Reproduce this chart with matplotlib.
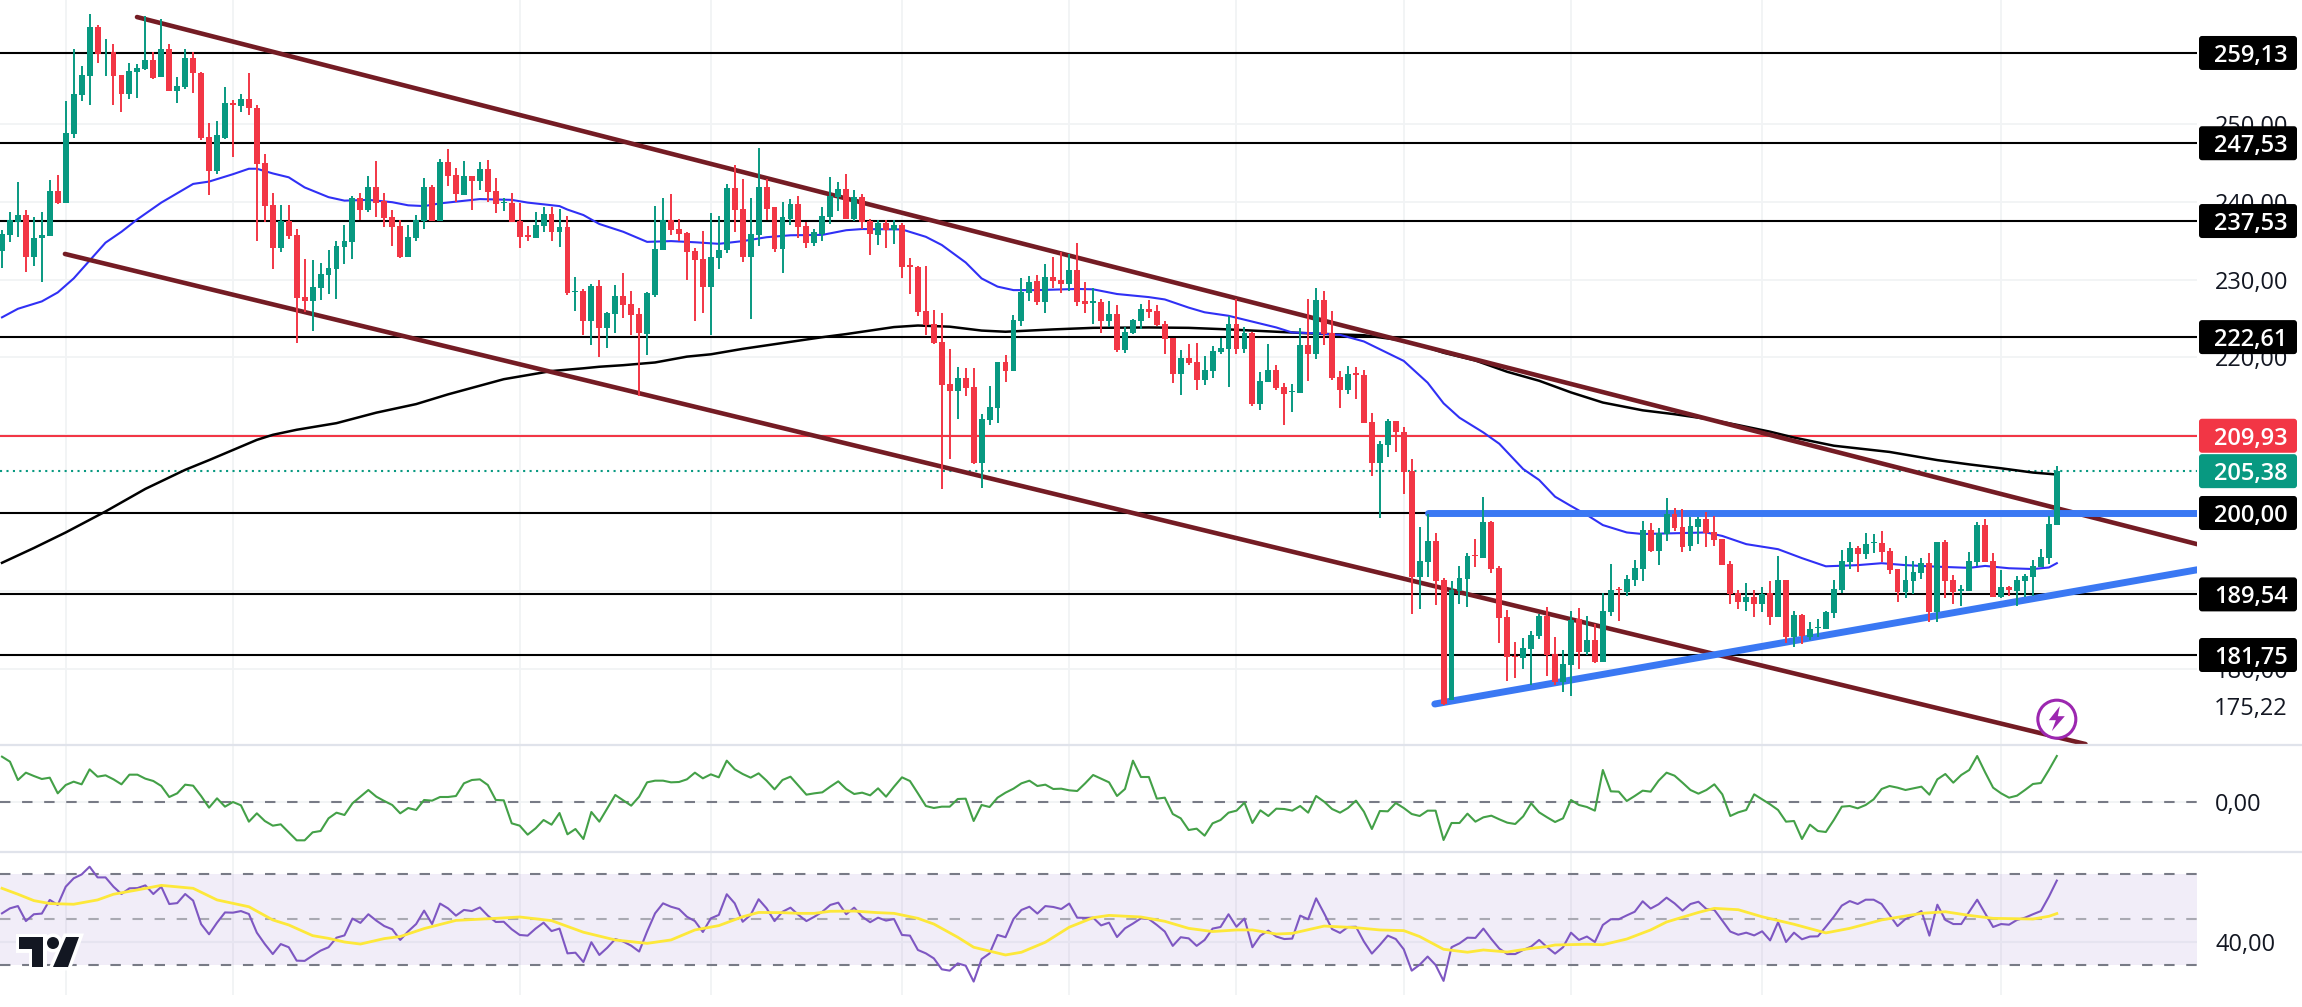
import matplotlib
matplotlib.use('Agg')
import matplotlib.pyplot as plt
from matplotlib.patches import FancyBboxPatch, Circle, Polygon
from matplotlib.transforms import IdentityTransform
import numpy as np

plt.rcParams['font.family'] = ['Open Sans', 'DejaVu Sans']

# OHLC
opens = [233.7,235.7,237.45,238.3,232.95,235.4,235.65,241.4,239.9,248.7,
    253.7,256.2,262.5,259.2,259.25,256.3,253.9,256.7,257.1,258.2,
    256.0,259.6,254.3,254.7,258.5,256.6,248.3,243.9,248.25,252.7,
    252.3,253.2,252.05,245.0,239.6,234.1,237.5,235.7,227.8,227.25,
    228.9,230.6,231.4,234.2,234.85,240.5,238.95,241.9,240.1,238.05,
    236.9,232.9,235.35,237.5,241.9,237.5,245.1,243.45,240.9,243.3,
    242.7,244.2,241.4,239.85,239.85,237.5,235.7,235.35,236.9,238.4,
    236.1,236.8,228.45,228.5,224.7,229.2,223.8,225.6,227.9,226.85,
    225.6,223.0,228.0,233.85,237.65,236.5,236.0,233.7,232.65,229.1,
    232.8,233.8,241.8,239.05,232.9,235.7,241.9,239.3,233.9,237.8,
    239.7,236.9,234.7,235.85,238.05,240.6,241.65,237.85,240.6,237.5,
    235.7,237.25,236.4,237.0,231.85,231.6,225.95,224.3,222.0,216.6,
    215.7,217.35,216.2,206.45,211.95,213.5,219.4,218.25,224.7,228.3,
    229.8,227.1,230.35,229.95,229.45,231.25,227.25,227.05,227.1,224.7,
    225.6,220.95,223.15,224.7,226.2,226.0,224.3,222.55,217.9,219.95,
    219.4,217.1,218.25,220.7,221.1,224.3,221.1,223.15,214.0,216.85,
    218.4,216.2,215.5,215.45,221.6,220.45,227.4,223.15,217.5,215.8,
    217.95,217.75,211.7,206.45,208.75,211.85,210.4,205.4,191.8,193.7,
    196.4,191.4,176.0,190.0,191.5,194.6,194.2,198.85,192.95,186.65,
    181.6,181.4,182.55,184.2,186.8,181.9,178.3,180.45,186.4,182.15,
    183.7,180.85,187.3,190.25,189.85,191.4,192.8,197.8,195.1,197.3,
    199.9,198.2,195.75,198.2,199.25,197.55,196.65,193.45,189.7,188.55,
    189.2,188.3,189.7,186.65,191.4,184.05,186.9,184.05,185.2,185.1,
    187.15,190.1,193.7,195.5,194.75,196.1,196.15,195.1,192.8,189.85,
    191.25,192.3,193.6,187.3,196.3,191.4,190.0,190.0,193.7,198.45,
    193.85,189.2,190.5,190.0,191.25,191.8,193.05,194.2,198.45]
highs = [236.4,238.7,242.5,239.0,238.0,238.7,242.8,243.4,253.0,259.7,
    257.5,264.2,262.7,260.9,260.3,256.3,257.8,257.7,263.9,259.3,
    263.5,260.3,256.0,259.7,259.2,256.7,250.1,250.4,254.7,253.05,
    253.9,256.6,252.4,246.1,241.1,239.6,239.6,236.5,232.65,232.5,
    232.1,233.8,234.9,237.0,240.8,241.1,243.3,245.2,241.1,239.0,
    237.6,237.0,238.3,243.1,242.2,245.5,246.75,244.4,245.25,243.3,
    245.1,245.4,243.1,240.5,241.1,239.85,236.9,238.7,239.3,239.3,
    239.1,238.2,230.3,228.75,229.5,229.9,225.9,229.25,230.9,228.5,
    226.3,228.4,239.5,240.55,241.0,237.75,236.1,234.0,236.25,238.5,
    238.2,242.3,244.7,242.9,240.55,246.9,242.9,239.3,240.0,240.35,
    240.75,237.4,236.5,239.3,243.2,242.55,243.55,241.5,241.0,237.75,
    237.65,237.65,237.65,237.25,232.75,231.7,231.75,226.1,225.7,221.1,
    218.75,218.6,218.6,212.7,216.3,219.4,220.3,225.45,230.2,230.45,
    230.6,232.0,232.9,233.5,233.3,234.7,229.7,228.9,227.5,227.25,
    226.75,223.9,224.95,226.85,227.4,226.7,224.65,222.55,220.9,221.7,
    221.8,220.2,221.45,222.5,225.35,227.5,223.85,223.25,218.1,221.7,
    219.0,216.7,216.6,223.8,227.5,228.9,228.55,226.0,218.25,218.9,
    218.75,218.4,212.85,209.25,212.1,211.85,211.05,206.95,198.2,199.9,
    197.45,191.65,191.25,193.2,194.85,196.65,202.05,199.0,193.2,187.55,
    183.45,183.95,184.85,187.05,187.95,184.05,182.4,187.4,187.8,186.8,
    185.75,189.75,193.45,190.5,192.05,193.95,199.0,198.7,198.1,201.95,
    200.65,200.5,199.5,199.5,200.15,199.6,196.65,193.85,190.1,191.0,
    190.1,190.5,191.25,194.5,191.4,187.4,187.0,186.0,186.4,187.4,
    191.4,195.25,196.3,195.75,197.45,197.3,197.7,195.5,192.8,194.5,
    193.85,194.2,194.85,196.3,196.55,192.05,190.75,195.0,198.85,199.25,
    194.85,192.7,190.6,191.9,192.15,193.95,195.4,199.6,206.05]
lows = [231.5,234.8,235.5,231.0,231.8,229.65,235.6,239.7,239.9,248.25,
    252.9,252.4,257.9,256.2,252.5,251.5,253.25,253.4,256.9,255.8,
    256.0,254.2,252.75,254.45,254.0,248.0,240.9,243.6,248.1,245.7,
    251.6,251.2,235.0,237.4,231.3,233.6,235.2,221.9,225.9,223.4,
    227.4,228.2,227.55,232.05,232.6,237.7,238.7,238.05,236.7,234.3,
    232.8,232.9,234.9,236.5,237.5,237.5,242.0,240.0,240.9,239.0,
    241.5,240.0,238.6,238.8,237.4,234.05,235.0,235.35,236.1,235.0,
    234.2,228.0,226.0,222.9,221.6,220.1,221.2,223.2,225.05,222.9,
    215.1,220.35,227.8,233.85,235.7,234.95,229.95,224.7,225.75,222.9,
    231.4,233.45,236.1,232.3,225.0,234.3,237.65,233.5,230.9,237.0,
    235.4,234.05,234.3,235.0,237.2,238.8,237.75,237.5,236.45,233.15,
    234.45,234.05,234.6,230.2,228.15,225.3,222.9,221.7,203.05,207.0,
    212.1,215.05,206.3,203.25,211.3,211.55,216.85,218.25,224.05,227.25,
    226.75,225.7,228.9,228.3,228.5,226.6,225.7,224.3,223.1,223.95,
    220.75,220.55,223.0,223.65,225.05,224.05,220.5,216.75,215.2,219.0,
    215.75,216.5,217.35,220.45,216.25,220.45,220.55,213.7,213.3,216.85,
    215.8,211.3,213.0,215.45,217.0,219.8,221.6,217.1,213.5,215.3,
    214.65,211.55,204.75,199.35,207.2,207.85,202.45,187.05,187.7,191.8,
    188.2,175.35,176.0,188.3,187.95,193.05,194.2,192.3,183.3,178.4,
    178.8,179.95,177.9,183.8,179.05,177.9,177.0,176.5,179.95,181.75,
    180.75,180.85,186.8,186.15,189.35,190.65,191.25,195.0,193.35,196.4,
    197.7,195.0,195.1,196.0,195.65,195.75,193.3,188.3,187.65,187.4,
    186.65,187.3,185.6,186.65,183.3,182.8,183.15,183.7,184.05,185.1,
    186.5,189.7,192.8,192.4,194.1,194.85,193.7,192.15,188.55,189.1,
    189.6,191.5,186.0,186.0,189.1,188.3,188.05,190.0,193.2,193.7,
    189.2,189.1,189.35,188.05,189.2,189.35,193.05,193.45,198.45]
closes = [235.9,237.6,238.3,232.95,235.4,235.7,241.4,239.8,248.85,253.9,
    256.3,262.5,259.0,259.3,256.2,253.9,256.8,257.2,258.2,255.9,
    259.6,254.2,254.9,258.5,256.5,248.2,244.0,248.6,252.7,252.4,
    253.2,252.0,244.9,239.5,234.1,237.5,235.6,227.7,227.25,229.05,
    230.7,231.5,234.3,234.9,240.5,238.95,241.9,239.9,237.9,236.8,
    232.9,235.5,237.6,241.9,237.5,245.1,243.3,241.0,243.3,242.7,
    244.2,241.3,239.7,240.0,237.4,235.5,235.5,237.0,238.4,236.1,
    236.8,228.3,228.6,224.7,229.2,223.8,225.75,227.9,226.8,225.45,
    223.2,228.25,233.9,237.65,236.4,235.9,233.5,232.5,229.1,232.9,
    233.8,241.8,238.95,232.9,235.85,241.9,239.05,233.9,238.05,239.7,
    236.75,234.7,236.1,238.2,240.75,241.65,237.85,240.6,237.4,235.85,
    237.25,236.4,237.0,231.6,231.65,225.85,224.15,221.85,216.45,215.7,
    217.35,216.05,206.4,212.1,213.6,219.4,218.25,224.8,228.4,229.7,
    227.1,230.35,229.8,229.45,231.25,227.1,226.85,227.25,224.7,225.6,
    220.95,223.25,224.8,226.2,225.85,224.15,222.4,217.9,219.95,219.3,
    217.1,218.4,220.8,221.2,224.3,221.1,223.15,214.0,217.0,218.4,
    216.05,215.3,215.7,221.6,220.45,227.4,223.0,217.35,215.8,217.85,
    217.8,211.55,206.45,208.9,211.85,210.4,205.3,191.8,193.85,196.4,
    191.25,175.45,190.1,191.65,194.5,194.45,198.85,192.8,186.5,181.5,
    181.45,182.65,184.35,186.8,181.75,178.3,180.6,186.25,182.15,183.7,
    180.85,187.4,190.1,190.05,191.5,192.95,197.8,195.1,197.45,199.9,
    198.1,195.65,198.35,199.25,197.45,196.55,193.3,189.6,188.55,189.2,
    188.3,189.6,186.65,191.4,184.05,186.9,184.2,185.1,185.35,187.3,
    190.25,193.85,195.5,194.75,196.0,196.3,195.0,192.7,189.85,191.4,
    192.4,193.6,187.3,196.3,191.25,189.85,190.2,193.85,198.45,193.7,
    189.2,190.5,190.1,191.4,191.9,193.2,194.35,198.6,205.38]

# moving averages, sampled at bar numbers
ma50_idx = [0,2,5,7,9,11,13,15,17,20,24,26,29,31,32,34,36,38,41,43,46,49,51,53,55,60,64,66,70,
    71,73,75,78,81,84,87,90,93,96,99,103,106,108,113,116,118,121,123,125,127,130,135,137,140,144,
    146,149,151,154,157,160,162,165,168,171,174,176,179,181,183,186,188,191,193,195,197,199,201,204,206,210,214,
    216,219,223,226,229,233,236,239,243,247,249,252,255,257,258]
ma50 = [225.15,226.25,227.2,228.35,230.15,232.45,234.75,236.15,237.75,239.9,242.3,242.6,243.55,244.25,244.25,243.65,243.15,241.85,240.6,240.15,240.25,239.95,239.55,239.45,239.8,240.35,240.25,239.9,239.45,
    239.0,238.3,237.15,236.15,234.85,234.95,234.8,234.6,234.95,235.45,235.7,235.75,236.35,236.5,236.45,235.5,234.45,232.2,230.15,229.1,228.65,228.65,228.8,228.75,228.15,227.75,
    227.45,226.4,225.8,225.35,224.6,223.85,223.2,223.1,222.9,222.05,220.55,219.55,216.75,214.1,212.25,210.35,208.9,205.65,204.25,202.1,200.9,199.75,198.45,197.5,197.3,197.4,197.5,
    197.05,196.0,195.35,194.2,193.15,193.3,193.55,193.3,193.1,192.95,193.2,192.9,192.8,193.0,193.55]
ma200_idx = [0,4,8,13,18,23,26,29,32,34,37,42,47,52,56,63,69,73,75,78,82,86,89,93,97,103,106,112,115,119,123,126,132,137,144,
    149,154,160,165,171,175,178,181,185,189,193,197,201,206,210,214,218,222,225,230,237,243,247,251,255,258]
ma200 = [193.6,195.5,197.5,200.2,203.1,205.55,206.8,208.1,209.4,210.05,210.7,211.55,212.9,214.0,215.25,217.2,218.25,218.6,218.8,219.0,219.35,220.1,220.4,221.1,221.7,222.6,223.0,223.9,224.1,223.95,223.45,223.3,223.6,223.8,223.85,
    223.8,223.6,223.3,223.05,222.85,222.3,221.6,220.6,219.6,218.15,217.0,215.5,214.2,213.2,212.7,212.1,211.3,210.45,209.7,208.65,207.85,206.8,206.25,205.75,205.2,204.95]

# second pane (momentum style line)
mom = [13.6,12.1,6.6,8.8,7.8,6.9,7.3,2.6,5.1,6.1,5.3,9.8,7.6,8.0,6.8,5.3,8.2,8.2,7.0,6.3,
    4.8,1.5,2.6,5.2,4.9,1.8,-1.7,1.1,-1.4,0.0,-1.0,-5.9,-3.4,-5.7,-7.1,-6.7,-9.1,-11.5,-11.5,-9.1,
    -8.7,-4.9,-3.2,-3.9,-0.4,1.6,3.6,1.6,0.3,-0.9,-3.4,-1.8,-2.4,0.6,0.4,1.5,1.5,1.8,5.6,6.6,
    6.8,5.1,0.6,0.5,-6.4,-7.1,-9.8,-7.9,-5.4,-6.8,-3.3,-9.7,-8.1,-11.1,-3.0,-5.9,-1.9,2.1,0.5,-1.1,
    1.6,5.9,6.4,6.4,5.9,6.0,6.8,8.8,7.1,8.3,7.4,12.4,9.8,8.4,7.3,8.6,6.4,3.8,
    6.6,7.6,4.9,2.2,2.6,2.9,4.6,6.2,3.9,2.4,2.8,2.0,4.1,1.6,4.6,7.4,6.3,2.6,-1.2,-1.8,-1.4,-1.4,
    0.9,1.0,-5.7,-0.9,-1.5,1.3,2.8,4.0,5.6,6.4,4.8,5.2,3.9,4.0,3.5,3.3,5.6,8.1,7.0,5.9,1.8,3.9,
    12.4,7.5,7.5,1.0,1.3,-3.6,-4.9,-8.4,-8.0,-10.1,-6.4,-5.4,-3.2,-2.6,-0.2,-6.3,-2.5,-4.2,-2.0,-2.1,
    -2.6,-1.2,-3.2,1.8,0.1,-2.1,-3.2,-1.8,0.4,-2.9,-8.1,-2.7,-2.8,-0.3,-1.8,-3.6,-4.2,-2.6,-2.6,-11.4,
    -6.3,-6.3,-3.5,-5.9,-4.6,-4.1,-5.2,-6.2,-6.6,-4.3,-0.4,-3.1,-4.6,
    -6.0,-4.9,0.6,-0.9,-1.5,-2.6,9.6,3.2,3.1,0.3,1.8,3.4,3.1,6.4,8.8,7.9,5.8,3.6,2.5,3.6,
    5.3,2.3,-4.2,-3.1,-2.4,2.3,0.8,-0.7,-2.4,-5.9,-5.7,-11.1,-6.8,-8.7,-9.0,-5.4,-1.4,-1.2,-1.9,-0.9,
    0.8,3.9,4.8,4.3,3.6,4.1,4.6,2.2,6.8,8.4,5.8,8.1,9.6,13.8,8.9,4.3,2.6,1.3,1.9,3.6,5.4,5.7,9.6,13.8]

rsi = [52.7,54.9,55.9,49.3,52.3,52.6,58.6,56.4,64.4,68.1,69.8,73.2,68.5,68.5,64.4,61.2,63.7,63.8,65.0,61.2,
    64.4,56.8,57.2,61.2,58.3,48.0,43.5,48.6,53.1,53.0,53.7,52.4,44.2,39.2,34.8,39.2,37.8,31.9,31.8,34.1,
    36.3,37.8,42.0,43.0,50.4,48.5,52.3,49.5,47.1,45.7,41.0,44.8,48.0,53.9,48.0,57.0,54.9,51.7,54.2,53.7,
    55.3,51.7,48.9,49.0,45.7,43.2,42.9,46.0,48.6,44.9,46.0,35.1,35.4,31.3,40.0,34.4,37.6,41.4,40.3,38.5,
    35.9,44.7,52.7,57.1,55.6,54.6,51.2,49.3,44.5,50.5,52.0,61.1,57.1,49.0,52.0,58.9,54.9,49.3,
    53.4,55.2,52.0,49.3,51.2,53.4,56.4,57.4,52.3,55.2,51.2,48.8,50.8,49.5,50.2,43.2,42.9,36.6,35.1,32.9,
    28.1,27.5,30.7,29.7,22.7,32.6,35.1,43.2,42.2,50.2,54.2,55.6,52.6,55.9,55.5,54.6,57.0,50.8,50.7,50.8,
    47.4,48.6,42.3,46.1,48.2,50.5,50.2,47.6,44.7,38.4,42.2,41.7,38.4,41.0,46.0,46.7,52.3,46.8,50.4,37.8,
    42.9,45.1,42.5,41.4,41.6,51.7,50.1,59.3,52.7,45.8,44.1,46.7,46.8,40.3,35.0,38.8,42.9,41.4,36.9,27.5,
    30.1,33.7,30.0,23.0,37.8,39.5,42.0,41.9,46.0,41.4,37.2,34.8,34.8,36.6,38.1,41.0,37.8,
    35.0,37.8,44.2,41.0,42.5,40.1,47.6,50.1,50.1,51.8,53.4,58.0,54.8,56.7,59.6,57.1,53.9,56.8,57.8,54.6,
    54.2,49.5,44.7,43.3,44.2,43.0,44.8,40.8,48.8,40.1,44.2,41.3,42.5,42.6,46.8,51.2,56.1,58.1,56.8,58.7,
    58.7,56.8,52.0,47.1,50.2,51.7,53.7,42.9,56.5,49.8,48.0,48.0,53.4,58.7,52.7,46.7,48.0,47.7,49.8,50.8,
    52.3,53.7,60.0,67.1]
rsi_ma_idx = [0,2,4,6,9,12,14,17,20,24,27,31,34,36,39,41,43,45,48,50,53,57,62,65,69,73,77,81,84,87,90,93,95,98,
    100,102,104,107,110,112,115,117,120,122,126,128,131,134,137,139,143,146,149,152,155,157,160,162,166,170,173,176,178,181,184,186,189,192,194,
    195,199,201,204,207,209,213,215,218,221,225,229,232,236,241,244,247,250,255,257,258]
rsi_ma = [63.7,61.1,58.3,57.0,56.7,58.6,61.1,63.0,65.0,63.7,58.6,55.6,49.8,47.6,42.9,41.7,40.1,39.2,41.6,42.5,46.0,49.6,50.5,51.1,49.5,44.4,41.0,39.5,41.0,45.4,47.3,51.2,53.1,53.0,
    52.7,52.7,53.6,53.7,53.0,52.7,50.5,48.0,42.2,37.8,34.4,35.6,40.0,46.6,50.8,51.8,51.1,49.2,46.1,44.7,45.4,45.4,43.6,43.9,47.1,46.4,45.4,45.1,42.5,36.9,35.6,36.6,35.7,37.3,38.1,
    38.8,39.1,38.9,41.4,45.4,48.9,53.1,54.9,54.3,51.2,47.9,44.1,46.1,49.8,52.7,53.4,51.8,50.5,50.2,51.4,52.6]

# drawn levels and trend lines (bar number, price)
levels = [259.13, 247.53, 237.53, 222.61, 200.00, 189.54, 181.75]
resist = 209.93
last_price = 205.38
upper_x, upper_y = [16.95, 275.6], [263.75, 196.0]
lower_x, lower_y = [7.9, 261.6], [233.3, 170.3]
flat_x, flat_y = [179.0, 275.6], [200.0, 200.0]
rising_x, rising_y = [179.9, 275.6], [175.45, 192.7]

grid_idx = [8, 29, 65, 89, 113, 134, 155, 176, 197, 221, 251]
price_ticks = [180, 190, 200, 210, 220, 230, 240, 250]

GREEN = '#089981'
RED = '#f23645'
INK = '#131722'
GRID = '#f1f3f5'
MAROON = '#741c24'
BLUE = '#3a78f3'
DASH = (0, (5, 5.6))

W, H = 2302, 1007
right = 2197
fig = plt.figure(figsize=(W / 100, H / 100), dpi=100, facecolor='white')

def pane(top, bottom):
    a = fig.add_axes([0, 1 - bottom / H, right / W, (bottom - top) / H])
    a.set_xlim(-0.25, 275.6)
    a.patch.set_alpha(0)
    for s in a.spines.values():
        s.set_visible(False)
    a.set_xticks([])
    a.yaxis.tick_right()
    a.tick_params(axis='y', length=0, pad=13, labelsize=17, labelcolor=INK)
    for g in grid_idx:
        a.axvline(g, color=GRID, lw=1.3, zorder=0)
    return a

ax = pane(0, 744)
ax.set_ylim(170.31, 265.94)
ax.set_yticks(price_ticks)
ax.set_yticklabels([f'{t},00' for t in price_ticks])
ax.grid(axis='y', color=GRID, lw=1.3, zorder=0)
ax.set_axisbelow(True)

x = np.arange(len(closes))
for lv in levels:
    ax.axhline(lv, color='black', lw=1.5, zorder=2)
ax.axhline(resist, color=RED, lw=1.5, zorder=2)
ax.axhline(last_price, color=GREEN, lw=1.5, ls=(0, (1, 2.1)), zorder=2)

ax.plot(ma200_idx, ma200, color='black', lw=1.8, zorder=3)
ax.plot(ma50_idx, ma50, color='#3030f5', lw=1.5, zorder=3)
ax.plot(upper_x, upper_y, color=MAROON, lw=3.3, solid_capstyle='round', zorder=4)
ax.plot(lower_x, lower_y, color=MAROON, lw=3.3, solid_capstyle='round', zorder=4)
ax.plot(flat_x, flat_y, color=BLUE, lw=5, solid_capstyle='round', zorder=4)
ax.plot(rising_x, rising_y, color=BLUE, lw=5, solid_capstyle='round', zorder=4)

o, h, l, c = map(np.array, (opens, highs, lows, closes))
colors = np.where(c >= o, GREEN, RED)
ax.vlines(x, l, h, colors=colors, lw=1.4, zorder=5)
ax.bar(x, np.abs(c - o), bottom=np.minimum(o, c), width=0.74, color=colors, lw=0, zorder=6)

# momentum pane
ax2 = pane(745, 852)
ax2.set_ylim(-15.0, 17.1)
ax2.set_yticks([0])
ax2.set_yticklabels(['0,00'])
ax2.axhline(0, color=GRID, lw=1.3, zorder=1)
ax2.axhline(0, color='#787b86', lw=1.5, ls=DASH, zorder=2)
ax2.plot(np.arange(len(mom)), mom, color='#43a047', lw=1.5, zorder=3)

# RSI pane
ax3 = pane(852, 995)
ax3.set_ylim(16.8, 79.67)
ax3.set_yticks([40])
ax3.set_yticklabels(['40,00'])
ax3.axhspan(30, 70, color='#7e57c2', alpha=0.1, lw=0, zorder=1)
ax3.axhline(40, color='#e6e4f0', lw=1.5, zorder=1)
ax3.axhline(70, color='#787b86', lw=1.5, ls=DASH, zorder=2)
ax3.axhline(30, color='#787b86', lw=1.5, ls=DASH, zorder=2)
ax3.axhline(50, color='#a9a9b2', lw=1.5, ls=DASH, zorder=2)
ax3.plot(np.arange(len(rsi)), rsi, color='#7e57c2', lw=1.5, zorder=3)
ax3.plot(rsi_ma_idx, rsi_ma, color='#fde83a', lw=2, zorder=4)

# pane separators
for yy in (745, 852):
    fig.add_artist(plt.Line2D([0, 1], [1 - yy / H] * 2, color='#e0e3eb', lw=1.6, zorder=3))

fig.canvas.draw()
px = IdentityTransform()

# price scale labels
tags = [(lv, 'black') for lv in levels] + [(resist, RED), (last_price, GREEN)]
for val, col in tags:
    yc = ax.transData.transform((0, val))[1]
    fig.add_artist(FancyBboxPatch((2201, yc - 15), 94, 30, boxstyle='round,pad=2,rounding_size=3',
                                  fc=col, ec='none', transform=px, zorder=5))
    fig.text(2251 / W, yc / H, f'{val:.2f}'.replace('.', ','), color='white', fontsize=17, ha='center',
             va='center_baseline', fontweight='semibold', zorder=6)
yc = ax.transData.transform((0, 175.22))[1]
fig.text(2251 / W, yc / H, '175,22', color=INK, fontsize=17, ha='center', va='center_baseline', zorder=6)

# flash icon over the lower channel line
cx, cy = ax.transData.transform((258, 173.5))
fig.add_artist(Circle((cx, cy), 19, fc='white', ec='#9c27b0', lw=2.2, transform=px, zorder=5))
bolt = [(3, 13), (-8, -1), (-1, -1), (-5, -12), (8, 3), (1, 3)]
fig.add_artist(Polygon([(cx + a, cy + b) for a, b in bolt], closed=True, fc='#9c27b0', ec='none',
                       transform=px, zorder=6))

# logo, bottom left
logo_t = [(19, 937), (43, 937), (43, 967), (32, 967), (32, 949), (19, 949)]
logo_s = [(66, 937), (79, 937), (68, 967), (53, 967)]
for pts in (logo_t, logo_s):
    fig.add_artist(Polygon([(a, H - b) for a, b in pts], closed=True, fc='white', ec='white', lw=5,
                           transform=px, zorder=4))
fig.add_artist(Circle((53, H - 943), 6, fc='white', ec='white', lw=5, transform=px, zorder=4))
for pts in (logo_t, logo_s):
    fig.add_artist(Polygon([(a, H - b) for a, b in pts], closed=True, fc=INK, ec='none',
                           transform=px, zorder=5))
fig.add_artist(Circle((53, H - 943), 6, fc=INK, ec='none', transform=px, zorder=5))

fig.savefig('out.png', dpi=100, facecolor='white')
